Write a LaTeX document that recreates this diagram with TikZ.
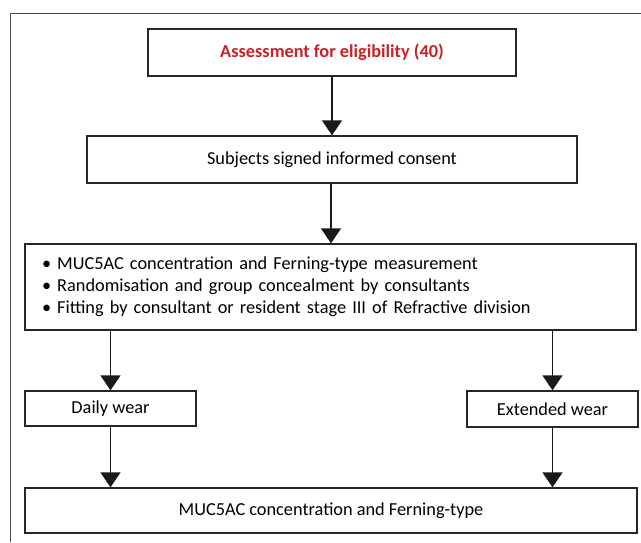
\documentclass[tikz,border=0pt]{standalone}
\usepackage{fontspec}
\setmainfont{Carlito}
\usetikzlibrary{arrows.meta, positioning}
\definecolor{titlered}{RGB}{204,32,39}

\begin{document}
\begin{tikzpicture}[x=1pt, y=-1pt,
    box/.style={draw=black!85, line width=1.4pt, inner sep=0pt, font=\fontsize{18.3}{22}\selectfont},
    arr/.style={-{Triangle[width=20pt,length=15pt]}, line width=1.5pt, draw=black!90}]
    \useasboundingbox (0,0) rectangle (641,542);
    % outer frame
    \draw[black!70, line width=1pt] (10,542) -- (10,13) -- (641,13);
    % boxes
    \node[box, line width=2pt, minimum width=368pt, minimum height=47pt, text=titlered, font=\fontsize{18.3}{22}\selectfont\bfseries] (assess) at (332,52) {Assessment for eligibility (40)};
    \node[box, minimum width=490pt, minimum height=47pt] (consent) at (332,159.5) {Subjects signed informed consent};
    \node[box, minimum width=611pt, minimum height=86pt, inner xsep=17pt, text width=577pt, align=left] (measure) at (330.5,287) {\textbullet\ MUC5AC concentration and Ferning-type measurement\\ \textbullet\ Randomisation and group concealment by consultants\\ \textbullet\ Fitting by consultant or resident stage III of Refractive division};
    \node[box, minimum width=171pt, minimum height=35pt] (daily) at (110.5,408.5) {Daily wear};
    \node[box, minimum width=171pt, minimum height=36pt] (extended) at (552.5,409) {Extended wear};
    \node[box, minimum width=612pt, minimum height=45pt] (result) at (331,510.5) {MUC5AC concentration and Ferning-type};
    % arrows
    \draw[arr] (assess) -- (consent);
    \draw[arr] (consent.south -| 331,0) -- (measure.north -| 331,0);
    \draw[arr] (daily.north |- measure.south) -- (daily);
    \draw[arr] (extended.north |- measure.south) -- (extended);
    \draw[arr] (daily) -- (daily.south |- result.north);
    \draw[arr] (extended) -- (extended.south |- result.north);
\end{tikzpicture}
\end{document}
